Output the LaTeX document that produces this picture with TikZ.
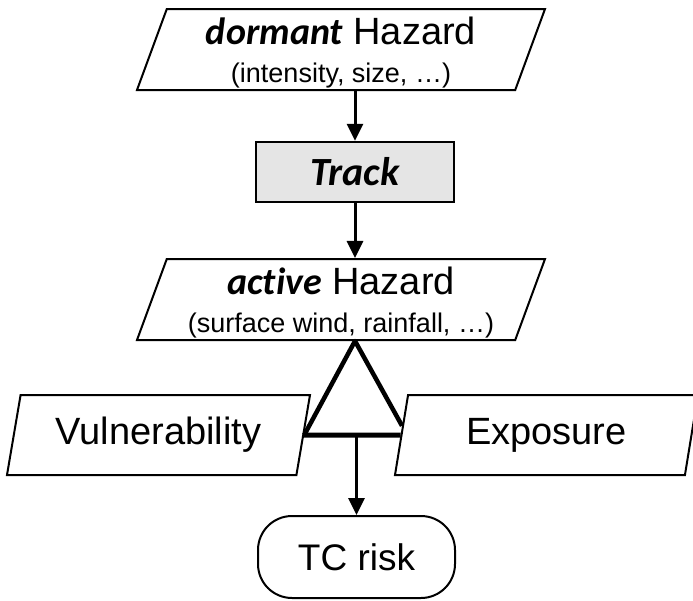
\documentclass[tikz,border=0pt]{standalone}
\usepackage{fontspec}
\setmainfont{Liberation Sans}
\newfontfamily\calibfont[Ligatures=NoCommon]{Carlito}
\usetikzlibrary{shapes.geometric,arrows.meta,calc}

\begin{document}
\begin{tikzpicture}[x=1pt,y=-1pt,
    hazard/.style={trapezium, trapezium left angle=69, trapezium right angle=111,
      trapezium stretches body, draw, line width=2pt, inner sep=0pt,
      minimum width=408pt, minimum height=81pt, align=center,
      font=\fontsize{38}{38}\selectfont},
    factor/.style={hazard, minimum width=303pt, minimum height=80pt},
    arr/.style={line width=3pt, -{Triangle[length=17pt,width=16pt]}},
    leg/.style={line width=4.5pt, line join=round},
    bar/.style={line width=5pt}]
   \useasboundingbox (0,0) rectangle (693,600);
   % hazard chain
   \node[hazard] (dormant) at (341,49.5)
     {\rule{0pt}{34pt}{\calibfont\bfseries\itshape dormant} Hazard\\
      \fontsize{27}{35}\selectfont (intensity, size, …)};
   \node[draw, line width=2.5pt, fill=black!10, minimum width=198pt, minimum height=60pt,
     font=\calibfont\bfseries\itshape\fontsize{40}{40}\selectfont] (track) at (355,172) {Track};
   \node[hazard] (active) at (341,299.5)
     {\rule{0pt}{34pt}{\calibfont\bfseries\itshape active} Hazard\\
      \fontsize{27}{35}\selectfont (surface wind, rainfall, …)};
   \draw[arr] (track |- dormant.south) -- (track.north);
   \draw[arr] (track.south) -- (track |- active.north);
   % risk triangle
   \node[factor] (vuln) at (158.5,435) {Vulnerability};
   \node[factor] (expo) at (546.5,435) {Exposure};
   \node[draw, line width=2pt, rounded corners=34pt, minimum width=197pt, minimum height=82pt,
     font=\fontsize{37}{37}\selectfont] (risk) at (356.5,557) {TC risk};
   \coordinate (apex) at (track |- active.south);
   \draw[leg] (vuln.east) -- (apex) -- ($(expo.west)!0.225!(expo.top left corner)$);
   \draw[bar] (vuln.east) -- (expo.west);
   \draw[arr] (risk |- vuln.east) -- (risk.north);
\end{tikzpicture}
\end{document}
